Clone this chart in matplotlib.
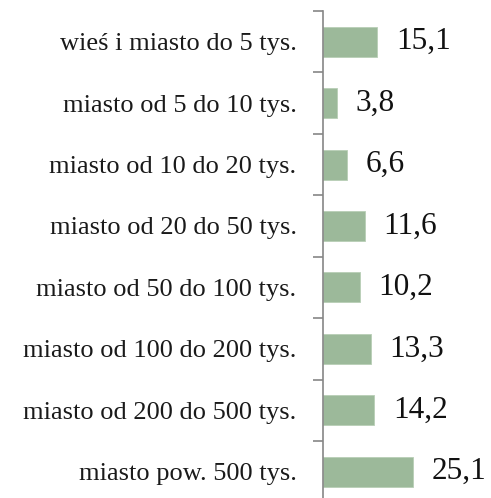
import matplotlib
matplotlib.use("Agg")
import matplotlib.pyplot as plt

categories = ["wieś i miasto do 5 tys.", "miasto od 5 do 10 tys.", "miasto od 10 do 20 tys.",
              "miasto od 20 do 50 tys.", "miasto od 50 do 100 tys.", "miasto od 100 do 200 tys.",
              "miasto od 200 do 500 tys.", "miasto pow. 500 tys."]
values = [15.1, 3.8, 6.6, 11.6, 10.2, 13.3, 14.2, 25.1]
value_labels = ["15,1", "3,8", "6,6", "11,6", "10,2", "13,3", "14,2", "25,1"]

W, H = 491, 498
fig = plt.figure(figsize=(W/100, H/100), dpi=100)
x0, top, bot = 323, 11, 502.4
xmax = 30
ppu = 3.58
ax = fig.add_axes([x0/W, (H-bot)/H, xmax*ppu/W, (bot-top)/H])
n = len(categories)
pos = list(range(n))
ax.barh(pos, values, height=0.49, color="#9cb99a", edgecolor="#b8ceb6", linewidth=0.6)
ax.set_ylim(n-0.5, -0.5)
ax.set_xlim(0, xmax)
for s in ["top", "right", "bottom"]:
    ax.spines[s].set_visible(False)
ax.spines["left"].set_color("#868686")
ax.spines["left"].set_linewidth(1.2)
ax.set_xticks([])
ax.set_yticks([i-0.5 for i in range(n+1)])
ax.set_yticklabels([])
ax.tick_params(axis="y", which="major", length=7, width=1.2, color="#868686")
ax.set_yticks(pos, minor=True)
ax.set_yticklabels(categories, minor=True, fontsize=19, family="Liberation Serif", color="#1a1a1a")
ax.tick_params(axis="y", which="minor", length=0, pad=19)
for p, v, lab in zip(pos, values, value_labels):
    ax.text(v + 19/ppu, p, lab, va="center", ha="left", fontsize=22.5, family="Liberation Serif", color="#111111")
fig.savefig("out.png", dpi=100)
